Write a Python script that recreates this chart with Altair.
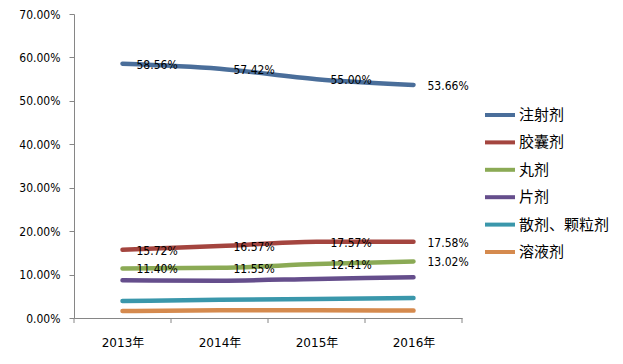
import altair as alt
import pandas as pd

years = [2013, 2014, 2015, 2016]
series = ["注射剂", "胶囊剂", "丸剂", "片剂", "散剂、颗粒剂", "溶液剂"]
colors = ["#4A6E9A", "#A4453F", "#8BAA55", "#654E8C", "#3A97AB", "#D58A4E"]

injection = [0.5856, 0.5742, 0.5500, 0.5366]
capsule = [0.1572, 0.1657, 0.1757, 0.1758]
pill = [0.1140, 0.1155, 0.1241, 0.1302]
tablet = [0.087, 0.086, 0.090, 0.094]
granule = [0.039, 0.042, 0.044, 0.046]
solution = [0.016, 0.018, 0.018, 0.017]

values = [injection, capsule, pill, tablet, granule, solution]
labeled = ["注射剂", "胶囊剂", "丸剂"]

rows = []
for s, vals in zip(series, values):
    for y, v in zip(years, vals):
        rows.append({"year": y, "series": s, "value": v, "show": s in labeled})
df = pd.DataFrame(rows)

tick_pos = pd.DataFrame({"t": [2012.5, 2013.5, 2014.5, 2015.5, 2016.5]})

FONT = "DejaVu Sans Condensed, DejaVu Sans, Noto Sans CJK SC"
XFONT = "DejaVu Sans, Noto Sans CJK SC"

H = 304
xscale = alt.Scale(domain=[2012.5, 2016.5], nice=False, zero=False)
yscale = alt.Scale(domain=[0, 0.7], nice=False)

lines = alt.Chart(df).mark_line(strokeWidth=4.5, interpolate="monotone", strokeCap="round").encode(
    x=alt.X("year:Q", scale=xscale,
            axis=alt.Axis(values=years, labelExpr="datum.value + '年'", ticks=False,
                          grid=False, title=None, labelFontSize=12, labelFont=XFONT,
                          labelColor="#000", labelPadding=19, domainColor="#868686")),
    y=alt.Y("value:Q", scale=yscale,
            axis=alt.Axis(values=[0, 0.1, 0.2, 0.3, 0.4, 0.5, 0.6, 0.7], format=".2%",
                          grid=False, title=None, labelFontSize=12, labelFont=FONT,
                          labelColor="#000", tickSize=5, tickColor="#868686",
                          domainColor="#868686", labelPadding=9)),
    color=alt.Color("series:N", scale=alt.Scale(domain=series, range=colors),
                    sort=series,
                    legend=alt.Legend(title=None, orient="none", legendX=409, legendY=84,
                                      symbolType="stroke", symbolStrokeWidth=4,
                                      symbolSize=900, labelFontSize=15,
                                      labelFont="Noto Sans CJK SC", labelColor="#000",
                                      rowPadding=2.4, labelOffset=2)),
    detail="series:N",
)

texts = alt.Chart(df).transform_filter("datum.show").mark_text(
    align="left", baseline="middle", dx=14, dy=1, fontSize=12, font=FONT, color="#000"
).encode(
    x=alt.X("year:Q", scale=xscale),
    y=alt.Y("value:Q", scale=yscale),
    text=alt.Text("value:Q", format=".2%"),
)

ticks = alt.Chart(tick_pos).mark_rule(color="#868686").encode(
    x=alt.X("t:Q", scale=xscale),
    y=alt.value(H),
    y2=alt.value(H + 5),
)

chart = alt.layer(lines, texts, ticks).properties(
    width=388, height=H,
    autosize=alt.AutoSizeParams(type="none"),
    padding={"left": 66, "top": 6, "right": 153, "bottom": 38},
    background="#ffffff",
).configure_view(stroke=None)

chart.save("out.html", embed_options={"renderer": "svg", "actions": False})
